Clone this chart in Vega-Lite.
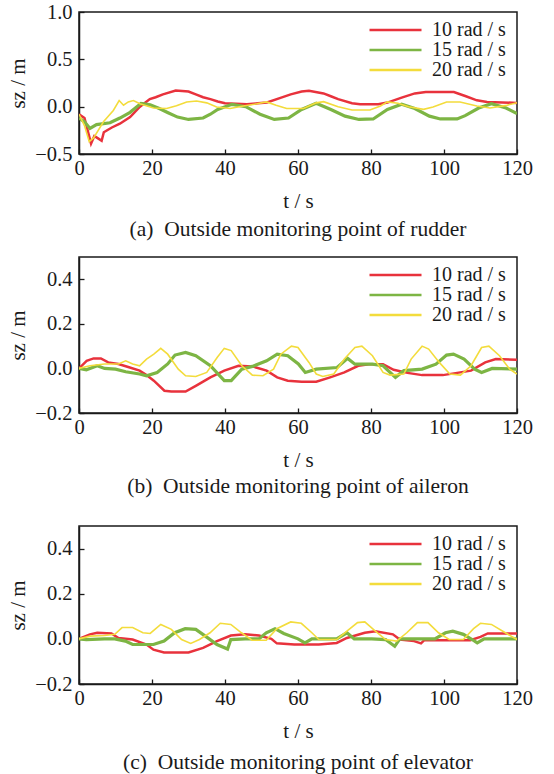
{
  "$schema": "https://vega.github.io/schema/vega-lite/v6.json",
  "background": "white",
  "padding": {"left": 7, "top": 1, "right": 5, "bottom": 0},
  "spacing": 15,
  "config": {
    "font": "Liberation Serif",
    "view": {"stroke": "#1a1a1a", "strokeWidth": 1.5},
    "axis": {"grid": false, "labelFlush": false, "domainColor": "#1a1a1a", "domainWidth": 1.5, "tickColor": "#1a1a1a", "tickSize": -5, "tickWidth": 1.3,
      "labelFont": "Liberation Serif", "labelFontSize": 20.5, "labelColor": "#1a1a1a",
      "titleFont": "Liberation Serif", "titleFontSize": 21, "titleFontWeight": "normal", "titleColor": "#1a1a1a"},
    "axisX": {"labelPadding": 9, "titlePadding": 12},
    "axisY": {"labelPadding": 12, "titlePadding": 6},
    "legend": {"orient": "none", "legendX": 289, "legendY": 8, "padding": 0, "title": null, "symbolType": "stroke", "symbolSize": 2704, "clipHeight": 20, "rowPadding": 0,
      "labelFont": "Liberation Serif", "labelFontSize": 20, "labelColor": "#1a1a1a", "labelOffset": 9, "symbolStrokeWidth": 2.5},
    "title": {"font": "Liberation Serif", "fontSize": 21.5, "fontWeight": "normal", "color": "#1a1a1a", "orient": "bottom", "anchor": "middle", "frame": "group"}
  },
  "datasets": {
    "a": [
      {"t":0,"v":-0.08,"s":"10 rad / s"},{"t":1.5,"v":-0.12,"s":"10 rad / s"},{"t":3.3,"v":-0.39,"s":"10 rad / s"},{"t":4.2,"v":-0.31,"s":"10 rad / s"},{"t":5,"v":-0.33,"s":"10 rad / s"},{"t":6.2,"v":-0.36,"s":"10 rad / s"},{"t":6.8,"v":-0.27,"s":"10 rad / s"},{"t":9,"v":-0.22,"s":"10 rad / s"},{"t":11.2,"v":-0.18,"s":"10 rad / s"},{"t":14,"v":-0.11,"s":"10 rad / s"},{"t":16.7,"v":0,"s":"10 rad / s"},{"t":19.4,"v":0.08,"s":"10 rad / s"},{"t":21,"v":0.1,"s":"10 rad / s"},{"t":23,"v":0.13,"s":"10 rad / s"},{"t":26.5,"v":0.17,"s":"10 rad / s"},{"t":30,"v":0.16,"s":"10 rad / s"},{"t":32,"v":0.13,"s":"10 rad / s"},{"t":34,"v":0.1,"s":"10 rad / s"},{"t":36,"v":0.08,"s":"10 rad / s"},{"t":38,"v":0.055,"s":"10 rad / s"},{"t":40,"v":0.036,"s":"10 rad / s"},{"t":43,"v":0.03,"s":"10 rad / s"},{"t":46,"v":0.025,"s":"10 rad / s"},{"t":49,"v":0.035,"s":"10 rad / s"},{"t":51.5,"v":0.045,"s":"10 rad / s"},{"t":55.4,"v":0.096,"s":"10 rad / s"},{"t":58,"v":0.13,"s":"10 rad / s"},{"t":61,"v":0.16,"s":"10 rad / s"},{"t":63,"v":0.167,"s":"10 rad / s"},{"t":67,"v":0.14,"s":"10 rad / s"},{"t":69,"v":0.11,"s":"10 rad / s"},{"t":71,"v":0.08,"s":"10 rad / s"},{"t":74.8,"v":0.036,"s":"10 rad / s"},{"t":77,"v":0.025,"s":"10 rad / s"},{"t":82,"v":0.025,"s":"10 rad / s"},{"t":84.5,"v":0.043,"s":"10 rad / s"},{"t":88.4,"v":0.096,"s":"10 rad / s"},{"t":92,"v":0.14,"s":"10 rad / s"},{"t":95,"v":0.155,"s":"10 rad / s"},{"t":102.7,"v":0.155,"s":"10 rad / s"},{"t":106,"v":0.11,"s":"10 rad / s"},{"t":109,"v":0.067,"s":"10 rad / s"},{"t":111.8,"v":0.05,"s":"10 rad / s"},{"t":120,"v":0.04,"s":"10 rad / s"},
      {"t":0,"v":-0.12,"s":"15 rad / s"},{"t":1.5,"v":-0.16,"s":"15 rad / s"},{"t":3,"v":-0.23,"s":"15 rad / s"},{"t":4.8,"v":-0.19,"s":"15 rad / s"},{"t":8.5,"v":-0.17,"s":"15 rad / s"},{"t":11.2,"v":-0.12,"s":"15 rad / s"},{"t":14,"v":-0.06,"s":"15 rad / s"},{"t":17,"v":0.035,"s":"15 rad / s"},{"t":19.5,"v":0.02,"s":"15 rad / s"},{"t":22,"v":-0.02,"s":"15 rad / s"},{"t":24.4,"v":-0.064,"s":"15 rad / s"},{"t":27,"v":-0.11,"s":"15 rad / s"},{"t":30,"v":-0.135,"s":"15 rad / s"},{"t":34,"v":-0.12,"s":"15 rad / s"},{"t":36,"v":-0.08,"s":"15 rad / s"},{"t":38,"v":-0.03,"s":"15 rad / s"},{"t":41.9,"v":0.025,"s":"15 rad / s"},{"t":45.7,"v":0,"s":"15 rad / s"},{"t":49.6,"v":-0.08,"s":"15 rad / s"},{"t":53.5,"v":-0.135,"s":"15 rad / s"},{"t":57.4,"v":-0.12,"s":"15 rad / s"},{"t":61,"v":-0.03,"s":"15 rad / s"},{"t":65,"v":0.036,"s":"15 rad / s"},{"t":69,"v":-0.03,"s":"15 rad / s"},{"t":72.9,"v":-0.1,"s":"15 rad / s"},{"t":76.7,"v":-0.135,"s":"15 rad / s"},{"t":80.6,"v":-0.13,"s":"15 rad / s"},{"t":84.5,"v":-0.03,"s":"15 rad / s"},{"t":88.4,"v":0.025,"s":"15 rad / s"},{"t":92,"v":-0.02,"s":"15 rad / s"},{"t":96,"v":-0.1,"s":"15 rad / s"},{"t":99,"v":-0.13,"s":"15 rad / s"},{"t":103.6,"v":-0.13,"s":"15 rad / s"},{"t":105.8,"v":-0.095,"s":"15 rad / s"},{"t":109.5,"v":-0.014,"s":"15 rad / s"},{"t":113,"v":0.031,"s":"15 rad / s"},{"t":117,"v":-0.014,"s":"15 rad / s"},{"t":120,"v":-0.074,"s":"15 rad / s"},
      {"t":0,"v":-0.08,"s":"20 rad / s"},{"t":1.5,"v":-0.2,"s":"20 rad / s"},{"t":2.8,"v":-0.37,"s":"20 rad / s"},{"t":4,"v":-0.33,"s":"20 rad / s"},{"t":6.7,"v":-0.16,"s":"20 rad / s"},{"t":9.4,"v":-0.04,"s":"20 rad / s"},{"t":11,"v":0.065,"s":"20 rad / s"},{"t":12.2,"v":0.015,"s":"20 rad / s"},{"t":13.5,"v":0.05,"s":"20 rad / s"},{"t":14.9,"v":0.065,"s":"20 rad / s"},{"t":16.7,"v":0.03,"s":"20 rad / s"},{"t":20.4,"v":-0.014,"s":"20 rad / s"},{"t":24,"v":-0.02,"s":"20 rad / s"},{"t":26.7,"v":0.01,"s":"20 rad / s"},{"t":29.5,"v":0.05,"s":"20 rad / s"},{"t":32.2,"v":0.06,"s":"20 rad / s"},{"t":35,"v":0.04,"s":"20 rad / s"},{"t":37.7,"v":-0.003,"s":"20 rad / s"},{"t":41.4,"v":-0.02,"s":"20 rad / s"},{"t":45,"v":0.007,"s":"20 rad / s"},{"t":48.7,"v":0.03,"s":"20 rad / s"},{"t":51.4,"v":0.05,"s":"20 rad / s"},{"t":54,"v":0.015,"s":"20 rad / s"},{"t":56.9,"v":-0.02,"s":"20 rad / s"},{"t":61.5,"v":-0.02,"s":"20 rad / s"},{"t":65,"v":0.04,"s":"20 rad / s"},{"t":67,"v":0.053,"s":"20 rad / s"},{"t":71,"v":0,"s":"20 rad / s"},{"t":74.8,"v":-0.035,"s":"20 rad / s"},{"t":79.7,"v":-0.035,"s":"20 rad / s"},{"t":82.6,"v":0.007,"s":"20 rad / s"},{"t":84.5,"v":0.05,"s":"20 rad / s"},{"t":87.4,"v":0.036,"s":"20 rad / s"},{"t":90.3,"v":0,"s":"20 rad / s"},{"t":94.4,"v":-0.028,"s":"20 rad / s"},{"t":97,"v":-0.004,"s":"20 rad / s"},{"t":100.7,"v":0.049,"s":"20 rad / s"},{"t":104.4,"v":0.049,"s":"20 rad / s"},{"t":109,"v":0.007,"s":"20 rad / s"},{"t":112.6,"v":-0.014,"s":"20 rad / s"},{"t":117.2,"v":0.014,"s":"20 rad / s"},{"t":120,"v":0.042,"s":"20 rad / s"}
    ],
    "b": [
      {"t":0,"v":0,"s":"10 rad / s"},{"t":2.1,"v":0.034,"s":"10 rad / s"},{"t":4,"v":0.045,"s":"10 rad / s"},{"t":6,"v":0.045,"s":"10 rad / s"},{"t":8,"v":0.027,"s":"10 rad / s"},{"t":10.8,"v":0.02,"s":"10 rad / s"},{"t":13.7,"v":0.005,"s":"10 rad / s"},{"t":16.6,"v":-0.01,"s":"10 rad / s"},{"t":18.5,"v":-0.03,"s":"10 rad / s"},{"t":20.5,"v":-0.055,"s":"10 rad / s"},{"t":23.4,"v":-0.1,"s":"10 rad / s"},{"t":25.3,"v":-0.104,"s":"10 rad / s"},{"t":29.2,"v":-0.104,"s":"10 rad / s"},{"t":32,"v":-0.078,"s":"10 rad / s"},{"t":36,"v":-0.04,"s":"10 rad / s"},{"t":39.8,"v":-0.01,"s":"10 rad / s"},{"t":43.7,"v":0.012,"s":"10 rad / s"},{"t":47.5,"v":0.009,"s":"10 rad / s"},{"t":51.4,"v":-0.01,"s":"10 rad / s"},{"t":54.3,"v":-0.04,"s":"10 rad / s"},{"t":57.2,"v":-0.055,"s":"10 rad / s"},{"t":61,"v":-0.06,"s":"10 rad / s"},{"t":65,"v":-0.06,"s":"10 rad / s"},{"t":68.8,"v":-0.04,"s":"10 rad / s"},{"t":72.7,"v":-0.018,"s":"10 rad / s"},{"t":76.5,"v":0.012,"s":"10 rad / s"},{"t":79.4,"v":0.019,"s":"10 rad / s"},{"t":83.3,"v":0.019,"s":"10 rad / s"},{"t":86.2,"v":-0.006,"s":"10 rad / s"},{"t":90,"v":-0.02,"s":"10 rad / s"},{"t":94,"v":-0.03,"s":"10 rad / s"},{"t":99.7,"v":-0.03,"s":"10 rad / s"},{"t":103.6,"v":-0.02,"s":"10 rad / s"},{"t":107.4,"v":-0.01,"s":"10 rad / s"},{"t":111.3,"v":0.027,"s":"10 rad / s"},{"t":114.2,"v":0.042,"s":"10 rad / s"},{"t":120,"v":0.039,"s":"10 rad / s"},
      {"t":0,"v":0,"s":"15 rad / s"},{"t":2,"v":-0.006,"s":"15 rad / s"},{"t":5,"v":0.012,"s":"15 rad / s"},{"t":7,"v":0,"s":"15 rad / s"},{"t":10,"v":-0.003,"s":"15 rad / s"},{"t":12.8,"v":-0.015,"s":"15 rad / s"},{"t":16.6,"v":-0.025,"s":"15 rad / s"},{"t":18.5,"v":-0.033,"s":"15 rad / s"},{"t":21.4,"v":-0.018,"s":"15 rad / s"},{"t":24.3,"v":0.02,"s":"15 rad / s"},{"t":26.3,"v":0.06,"s":"15 rad / s"},{"t":29.2,"v":0.072,"s":"15 rad / s"},{"t":32,"v":0.057,"s":"15 rad / s"},{"t":36,"v":0.012,"s":"15 rad / s"},{"t":39.8,"v":-0.055,"s":"15 rad / s"},{"t":41.7,"v":-0.055,"s":"15 rad / s"},{"t":44.6,"v":-0.003,"s":"15 rad / s"},{"t":47.5,"v":0.009,"s":"15 rad / s"},{"t":51.4,"v":0.034,"s":"15 rad / s"},{"t":54.3,"v":0.064,"s":"15 rad / s"},{"t":57.2,"v":0.057,"s":"15 rad / s"},{"t":60.1,"v":0.02,"s":"15 rad / s"},{"t":62,"v":-0.018,"s":"15 rad / s"},{"t":65,"v":-0.003,"s":"15 rad / s"},{"t":70.7,"v":0.004,"s":"15 rad / s"},{"t":73.6,"v":0.045,"s":"15 rad / s"},{"t":75.6,"v":0.019,"s":"15 rad / s"},{"t":80.4,"v":0.019,"s":"15 rad / s"},{"t":83.3,"v":0.012,"s":"15 rad / s"},{"t":86.7,"v":-0.04,"s":"15 rad / s"},{"t":89,"v":-0.01,"s":"15 rad / s"},{"t":94,"v":-0.003,"s":"15 rad / s"},{"t":97.8,"v":0.019,"s":"15 rad / s"},{"t":100.7,"v":0.06,"s":"15 rad / s"},{"t":102.6,"v":0.064,"s":"15 rad / s"},{"t":105.5,"v":0.042,"s":"15 rad / s"},{"t":108.4,"v":-0.003,"s":"15 rad / s"},{"t":110.3,"v":-0.018,"s":"15 rad / s"},{"t":113.2,"v":0,"s":"15 rad / s"},{"t":120,"v":-0.003,"s":"15 rad / s"},
      {"t":0,"v":0,"s":"20 rad / s"},{"t":3,"v":0.012,"s":"20 rad / s"},{"t":7,"v":0.02,"s":"20 rad / s"},{"t":10.8,"v":0.02,"s":"20 rad / s"},{"t":12.8,"v":0.034,"s":"20 rad / s"},{"t":14.7,"v":0.02,"s":"20 rad / s"},{"t":16.6,"v":0.012,"s":"20 rad / s"},{"t":18.5,"v":0.042,"s":"20 rad / s"},{"t":20.5,"v":0.064,"s":"20 rad / s"},{"t":22.4,"v":0.09,"s":"20 rad / s"},{"t":24.3,"v":0.064,"s":"20 rad / s"},{"t":27.2,"v":-0.003,"s":"20 rad / s"},{"t":29.2,"v":-0.033,"s":"20 rad / s"},{"t":32,"v":-0.036,"s":"20 rad / s"},{"t":35,"v":-0.018,"s":"20 rad / s"},{"t":37.9,"v":0.05,"s":"20 rad / s"},{"t":39.8,"v":0.09,"s":"20 rad / s"},{"t":41.7,"v":0.08,"s":"20 rad / s"},{"t":44.6,"v":0.012,"s":"20 rad / s"},{"t":47.5,"v":-0.03,"s":"20 rad / s"},{"t":50.4,"v":-0.033,"s":"20 rad / s"},{"t":53.3,"v":-0.003,"s":"20 rad / s"},{"t":55.3,"v":0.064,"s":"20 rad / s"},{"t":58.2,"v":0.1,"s":"20 rad / s"},{"t":60,"v":0.094,"s":"20 rad / s"},{"t":63,"v":0.027,"s":"20 rad / s"},{"t":65,"v":-0.025,"s":"20 rad / s"},{"t":66.8,"v":-0.036,"s":"20 rad / s"},{"t":69.8,"v":-0.025,"s":"20 rad / s"},{"t":72.7,"v":0.042,"s":"20 rad / s"},{"t":75.6,"v":0.094,"s":"20 rad / s"},{"t":77.5,"v":0.1,"s":"20 rad / s"},{"t":80.4,"v":0.057,"s":"20 rad / s"},{"t":83.3,"v":-0.018,"s":"20 rad / s"},{"t":85.2,"v":-0.03,"s":"20 rad / s"},{"t":89,"v":-0.025,"s":"20 rad / s"},{"t":91,"v":0.042,"s":"20 rad / s"},{"t":94,"v":0.1,"s":"20 rad / s"},{"t":95.8,"v":0.087,"s":"20 rad / s"},{"t":98.7,"v":0.027,"s":"20 rad / s"},{"t":101.6,"v":-0.025,"s":"20 rad / s"},{"t":104.5,"v":-0.03,"s":"20 rad / s"},{"t":107.4,"v":0.012,"s":"20 rad / s"},{"t":110.3,"v":0.094,"s":"20 rad / s"},{"t":112.3,"v":0.1,"s":"20 rad / s"},{"t":115.2,"v":0.057,"s":"20 rad / s"},{"t":118,"v":-0.003,"s":"20 rad / s"},{"t":120,"v":-0.025,"s":"20 rad / s"}
    ],
    "c": [
      {"t":0,"v":0,"s":"10 rad / s"},{"t":3,"v":0.02,"s":"10 rad / s"},{"t":5,"v":0.027,"s":"10 rad / s"},{"t":8.9,"v":0.024,"s":"10 rad / s"},{"t":10.8,"v":0.004,"s":"10 rad / s"},{"t":14.7,"v":-0.003,"s":"10 rad / s"},{"t":18.5,"v":-0.025,"s":"10 rad / s"},{"t":20.4,"v":-0.048,"s":"10 rad / s"},{"t":23.3,"v":-0.06,"s":"10 rad / s"},{"t":30,"v":-0.06,"s":"10 rad / s"},{"t":34,"v":-0.04,"s":"10 rad / s"},{"t":37.8,"v":-0.01,"s":"10 rad / s"},{"t":41.6,"v":0.015,"s":"10 rad / s"},{"t":45.5,"v":0.02,"s":"10 rad / s"},{"t":49.3,"v":0.015,"s":"10 rad / s"},{"t":52.7,"v":0,"s":"10 rad / s"},{"t":54.2,"v":-0.02,"s":"10 rad / s"},{"t":59,"v":-0.025,"s":"10 rad / s"},{"t":65.7,"v":-0.025,"s":"10 rad / s"},{"t":70.6,"v":-0.018,"s":"10 rad / s"},{"t":73.4,"v":0.004,"s":"10 rad / s"},{"t":78.3,"v":0.027,"s":"10 rad / s"},{"t":81.2,"v":0.034,"s":"10 rad / s"},{"t":86,"v":0.02,"s":"10 rad / s"},{"t":87.9,"v":-0.003,"s":"10 rad / s"},{"t":91.8,"v":-0.01,"s":"10 rad / s"},{"t":93.7,"v":-0.02,"s":"10 rad / s"},{"t":94.6,"v":-0.006,"s":"10 rad / s"},{"t":107.2,"v":-0.006,"s":"10 rad / s"},{"t":110,"v":0.009,"s":"10 rad / s"},{"t":112,"v":0.024,"s":"10 rad / s"},{"t":120,"v":0.024,"s":"10 rad / s"},
      {"t":0,"v":0,"s":"15 rad / s"},{"t":2,"v":-0.003,"s":"15 rad / s"},{"t":7,"v":0,"s":"15 rad / s"},{"t":9.8,"v":0,"s":"15 rad / s"},{"t":12.7,"v":-0.01,"s":"15 rad / s"},{"t":14.7,"v":-0.025,"s":"15 rad / s"},{"t":20.4,"v":-0.025,"s":"15 rad / s"},{"t":23.3,"v":-0.01,"s":"15 rad / s"},{"t":26.2,"v":0.027,"s":"15 rad / s"},{"t":29.1,"v":0.045,"s":"15 rad / s"},{"t":32,"v":0.042,"s":"15 rad / s"},{"t":34.9,"v":0.009,"s":"15 rad / s"},{"t":37.8,"v":-0.025,"s":"15 rad / s"},{"t":40.7,"v":-0.045,"s":"15 rad / s"},{"t":41.6,"v":-0.003,"s":"15 rad / s"},{"t":45.5,"v":0,"s":"15 rad / s"},{"t":49.3,"v":0,"s":"15 rad / s"},{"t":51.3,"v":0.027,"s":"15 rad / s"},{"t":53.7,"v":0.045,"s":"15 rad / s"},{"t":56.1,"v":0.024,"s":"15 rad / s"},{"t":60,"v":0,"s":"15 rad / s"},{"t":61.9,"v":-0.018,"s":"15 rad / s"},{"t":63.8,"v":0,"s":"15 rad / s"},{"t":70.6,"v":0,"s":"15 rad / s"},{"t":73.4,"v":0.027,"s":"15 rad / s"},{"t":75.4,"v":0,"s":"15 rad / s"},{"t":80.2,"v":0,"s":"15 rad / s"},{"t":84,"v":-0.003,"s":"15 rad / s"},{"t":86.5,"v":-0.033,"s":"15 rad / s"},{"t":87.9,"v":0,"s":"15 rad / s"},{"t":97.5,"v":0,"s":"15 rad / s"},{"t":100.4,"v":0.027,"s":"15 rad / s"},{"t":102.4,"v":0.034,"s":"15 rad / s"},{"t":105.3,"v":0.02,"s":"15 rad / s"},{"t":107.7,"v":-0.003,"s":"15 rad / s"},{"t":109.1,"v":-0.018,"s":"15 rad / s"},{"t":111,"v":0,"s":"15 rad / s"},{"t":120,"v":0,"s":"15 rad / s"},
      {"t":0,"v":0,"s":"20 rad / s"},{"t":3,"v":0.012,"s":"20 rad / s"},{"t":7,"v":0.015,"s":"20 rad / s"},{"t":9.8,"v":0.02,"s":"20 rad / s"},{"t":11.8,"v":0.05,"s":"20 rad / s"},{"t":14.7,"v":0.05,"s":"20 rad / s"},{"t":17.5,"v":0.027,"s":"20 rad / s"},{"t":19.5,"v":0.024,"s":"20 rad / s"},{"t":22.4,"v":0.064,"s":"20 rad / s"},{"t":25.3,"v":0.042,"s":"20 rad / s"},{"t":28.1,"v":-0.003,"s":"20 rad / s"},{"t":30.6,"v":-0.02,"s":"20 rad / s"},{"t":33,"v":-0.003,"s":"20 rad / s"},{"t":35.9,"v":0.027,"s":"20 rad / s"},{"t":38.7,"v":0.069,"s":"20 rad / s"},{"t":41.6,"v":0.064,"s":"20 rad / s"},{"t":44.5,"v":0.027,"s":"20 rad / s"},{"t":47.4,"v":-0.006,"s":"20 rad / s"},{"t":51.3,"v":-0.006,"s":"20 rad / s"},{"t":54.2,"v":0.045,"s":"20 rad / s"},{"t":58,"v":0.075,"s":"20 rad / s"},{"t":60.9,"v":0.069,"s":"20 rad / s"},{"t":63.8,"v":0.027,"s":"20 rad / s"},{"t":65.7,"v":-0.003,"s":"20 rad / s"},{"t":70.6,"v":-0.003,"s":"20 rad / s"},{"t":73.4,"v":0.034,"s":"20 rad / s"},{"t":76.3,"v":0.072,"s":"20 rad / s"},{"t":78.3,"v":0.075,"s":"20 rad / s"},{"t":81.2,"v":0.034,"s":"20 rad / s"},{"t":84,"v":-0.003,"s":"20 rad / s"},{"t":87,"v":-0.01,"s":"20 rad / s"},{"t":89.8,"v":0.027,"s":"20 rad / s"},{"t":92.7,"v":0.072,"s":"20 rad / s"},{"t":95.6,"v":0.072,"s":"20 rad / s"},{"t":98.5,"v":0.027,"s":"20 rad / s"},{"t":101.4,"v":-0.003,"s":"20 rad / s"},{"t":105.3,"v":-0.003,"s":"20 rad / s"},{"t":108.1,"v":0.045,"s":"20 rad / s"},{"t":110,"v":0.069,"s":"20 rad / s"},{"t":113,"v":0.064,"s":"20 rad / s"},{"t":116.8,"v":0.027,"s":"20 rad / s"},{"t":120,"v":-0.003,"s":"20 rad / s"}
    ]
  },
  "resolve": {"scale": {"color": "independent"}, "legend": {"color": "independent"}},
  "vconcat": [
    {
      "data": {"name": "a"},
      "width": 438, "height": 142,
      "title": {"text": "(a)\u00a0 Outside monitoring point of rudder", "offset": 7},
      "encoding": {
        "x": {"field": "t", "type": "quantitative", "scale": {"domain": [0, 120], "nice": false}, "axis": {"title": "t / s", "values": [0, 20, 40, 60, 80, 100, 120], "format": "d"}},
        "y": {"field": "v", "type": "quantitative", "scale": {"domain": [-0.5, 1.0], "nice": false, "zero": false}, "axis": {"title": "sz / m", "values": [-0.5, 0, 0.5, 1.0], "format": ".1f"}},
        "color": {"field": "s", "type": "nominal", "scale": {"domain": ["10 rad / s", "15 rad / s", "20 rad / s"], "range": ["#e8323c", "#7db544", "#f3dc3c"]}}
      },
      "layer": [
        {"transform": [{"filter": "datum.s == '10 rad / s'"}], "mark": {"type": "line", "strokeWidth": 2.5, "clip": true}},
        {"transform": [{"filter": "datum.s == '15 rad / s'"}], "mark": {"type": "line", "strokeWidth": 3.2, "clip": true}},
        {"transform": [{"filter": "datum.s == '20 rad / s'"}], "mark": {"type": "line", "strokeWidth": 1.6, "clip": true}}
      ]
    },
    {
      "data": {"name": "b"},
      "width": 438, "height": 156,
      "title": {"text": "(b)\u00a0 Outside monitoring point of aileron", "offset": 5, "subtitle": "\u00a0", "subtitleFontSize": 2, "subtitlePadding": 10},
      "encoding": {
        "x": {"field": "t", "type": "quantitative", "scale": {"domain": [0, 120], "nice": false}, "axis": {"title": "t / s", "values": [0, 20, 40, 60, 80, 100, 120], "format": "d"}},
        "y": {"field": "v", "type": "quantitative", "scale": {"domain": [-0.2, 0.5], "nice": false, "zero": false}, "axis": {"title": "sz / m", "values": [-0.2, 0, 0.2, 0.4], "format": ".1f"}},
        "color": {"field": "s", "type": "nominal", "scale": {"domain": ["10 rad / s", "15 rad / s", "20 rad / s"], "range": ["#e8323c", "#7db544", "#f3dc3c"]}}
      },
      "layer": [
        {"transform": [{"filter": "datum.s == '10 rad / s'"}], "mark": {"type": "line", "strokeWidth": 2.5, "clip": true}},
        {"transform": [{"filter": "datum.s == '15 rad / s'"}], "mark": {"type": "line", "strokeWidth": 3.2, "clip": true}},
        {"transform": [{"filter": "datum.s == '20 rad / s'"}], "mark": {"type": "line", "strokeWidth": 1.6, "clip": true}}
      ]
    },
    {
      "data": {"name": "c"},
      "width": 438, "height": 158,
      "title": {"text": "(c)\u00a0 Outside monitoring point of elevator", "offset": 10},
      "encoding": {
        "x": {"field": "t", "type": "quantitative", "scale": {"domain": [0, 120], "nice": false}, "axis": {"title": "t / s", "values": [0, 20, 40, 60, 80, 100, 120], "format": "d"}},
        "y": {"field": "v", "type": "quantitative", "scale": {"domain": [-0.2, 0.5], "nice": false, "zero": false}, "axis": {"title": "sz / m", "values": [-0.2, 0, 0.2, 0.4], "format": ".1f"}},
        "color": {"field": "s", "type": "nominal", "scale": {"domain": ["10 rad / s", "15 rad / s", "20 rad / s"], "range": ["#e8323c", "#7db544", "#f3dc3c"]}}
      },
      "layer": [
        {"transform": [{"filter": "datum.s == '10 rad / s'"}], "mark": {"type": "line", "strokeWidth": 2.5, "clip": true}},
        {"transform": [{"filter": "datum.s == '15 rad / s'"}], "mark": {"type": "line", "strokeWidth": 3.2, "clip": true}},
        {"transform": [{"filter": "datum.s == '20 rad / s'"}], "mark": {"type": "line", "strokeWidth": 1.6, "clip": true}}
      ]
    }
  ]
}
